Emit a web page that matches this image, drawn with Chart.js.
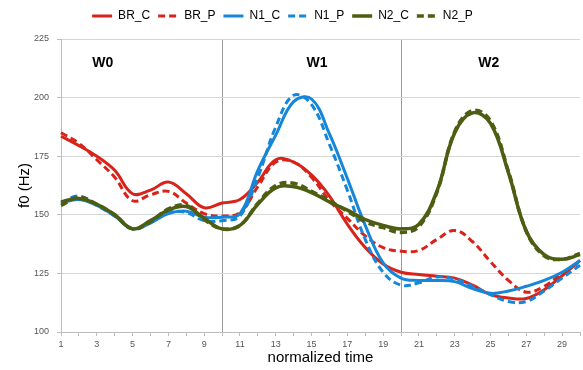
<!DOCTYPE html>
<html>
<head>
<meta charset="utf-8">
<script src="https://cdn.jsdelivr.net/npm/chart.js@4"></script>
<style>
html,body{margin:0;padding:0;background:#fff;}
#wrap{width:583px;height:370px;position:relative;}
</style>
</head>
<body>
<div id="wrap"><canvas id="c" width="583" height="370"></canvas></div>
<script>
// ---- data ----
const categories = Array.from({length: 30}, (_, i) => String(i + 1));
const seriesNames = ['BR_C', 'BR_P', 'N1_C', 'N1_P', 'N2_C', 'N2_P'];
const BR_C = [183.5,179.5,175,169,159,160.5,164,159,153,155,156.5,164,173.5,172.5,167,158,146,136,129,125.5,124.5,123.8,123,120,116,114.5,114.3,118,124,130.5];
const BR_P = [185,180.5,173.5,166,156,158.5,160,155,150.5,149.5,151,162,172.5,172.5,166,156,148.5,141,136,134.5,134.8,139.5,143.3,138.5,130,122,117,119.5,125,130];
const N1_C = [155,156.5,154,149.5,144,146.5,150.5,151.5,149,149,150.5,169,184,198.3,199.4,184.5,165.5,145.5,129.5,123,122,122,121.5,118.5,116.5,117.5,119.5,122,125.5,130.5];
const N1_P = [155,158,154,149.5,144,147,151,151,147.5,147.5,149.5,166,187.5,201,197,180,160.5,139.5,125.5,120,121,123.5,122.5,119.5,116,113,113,117.5,123,128.5];
const N2_C = [155.5,157,154.5,150,144,147.5,152,153.5,148.5,144,145.5,154.5,161.5,162,159.5,155.5,152,148,145.5,144,146,160,185,193.5,189,168,143,133,131,133];
const N2_P = [154,157.5,154.5,150,144,147,152.5,154,148,144,145.5,155,162.5,163.5,160,156,151.5,147,144.5,142.5,145,159.5,185.5,194.5,190,168.5,143,132.5,131,133.5];
const yTicks = [100, 125, 150, 175, 200, 225];
const sectionLabels = ['W0', 'W1', 'W2'];
const sectionAt = [3.33, 15.3, 24.9];   // category position (1-based) of each label
const sectionY = 214.8;

const seriesValues = [BR_C, BR_P, N1_C, N1_P, N2_C, N2_P];
const colors = ['#d8231a', '#d8231a', '#1586d8', '#1586d8', '#4d5d12', '#4d5d12'];
const dashes = [[], [7, 4], [], [7, 4], [], [7, 4]];
const widths = [3, 3, 3, 3, 3.5, 3.5];
const FONT = '"Liberation Sans", Arial, sans-serif';

const sectionPlugin = {
  id: 'sections',
  beforeLayout(chart) {
    const lg = chart.legend;
    if (lg && !lg._patched) {
      const orig = lg.fit;
      lg.fit = function () { orig.call(this); this.height += 9; };
      lg._patched = true;
    }
  },
  afterLayout(chart) {
    const lg = chart.legend;
    if (lg) { lg.left -= 9; lg.right -= 9; lg.top += 2; }
  },
  afterDatasetsDraw(chart) {
    const {ctx, scales: {x, y}} = chart;
    ctx.save();
    ctx.font = 'bold 14px ' + FONT;
    ctx.fillStyle = '#000';
    ctx.textAlign = 'center';
    ctx.textBaseline = 'middle';
    sectionLabels.forEach((t, i) => {
      const px = x.getPixelForValue(sectionAt[i] - 1);
      ctx.fillText(t, px, y.getPixelForValue(sectionY));
    });
    ctx.restore();
  }
};

new Chart(document.getElementById('c'), {
  type: 'line',
  data: {
    labels: categories,
    datasets: seriesNames.map((n, i) => ({
      label: n,
      data: seriesValues[i],
      borderColor: colors[i],
      backgroundColor: colors[i],
      borderDash: dashes[i],
      borderWidth: widths[i],
      pointRadius: 0,
      tension: 0.4,
      fill: false,
      order: 5 - i
    }))
  },
  options: {
    responsive: false,
    animation: false,
    layout: {padding: {top: 0, right: 0, left: 0, bottom: 0}},
    plugins: {
      tooltip: {enabled: false},
      legend: {
        position: 'top',
        labels: {
          usePointStyle: true,
          pointStyle: 'line',
          pointStyleWidth: 20,
          boxHeight: 12,
          padding: 8,
          color: '#000',
          font: {family: FONT, size: 12},
          sort: (a, b) => a.datasetIndex - b.datasetIndex,
          generateLabels: (chart) => {
            const items = Chart.defaults.plugins.legend.labels.generateLabels(chart);
            items.forEach(it => {
              const ds = chart.data.datasets[it.datasetIndex];
              it.lineDash = ds.borderDash;
              it.lineWidth = ds.borderWidth;
              it.strokeStyle = ds.borderColor;
              it.lineCap = 'butt';
            });
            return items;
          }
        }
      }
    },
    scales: {
      x: {
        type: 'category',
        offset: false,
        afterFit: (s) => { s.height = 38; },
        title: {display: true, text: 'normalized time', color: '#000',
                font: {family: FONT, size: 15}, padding: {top: 0, bottom: 3}},
        ticks: {
          autoSkip: false, maxRotation: 0, color: '#555', padding: 3,
          font: {family: FONT, size: 9},
          callback: (v, i) => (i % 2 === 0 ? categories[i] : '')
        },
        grid: {
          color: (c) => (c.index === 9 || c.index === 19) ? '#9a9a9a' : 'rgba(0,0,0,0)',
          tickColor: '#bdbdbd',
          tickLength: 4,
          lineWidth: 1
        },
        border: {color: '#bdbdbd'}
      },
      y: {
        min: 100, max: 225,
        afterFit: (s) => { s.width = 61; },
        afterBuildTicks: (s) => { s.ticks = yTicks.map(v => ({value: v})); },
        title: {display: true, text: 'f0 (Hz)', color: '#000',
                font: {family: FONT, size: 15}, padding: {top: 16, bottom: 0}},
        ticks: {color: '#555', padding: 8,
                font: {family: FONT, size: 9}},
        grid: {color: '#d6d6d6', tickColor: '#bdbdbd', tickLength: 4},
        border: {color: '#bdbdbd'}
      }
    }
  },
  plugins: [sectionPlugin]
});
</script>
</body>
</html>
